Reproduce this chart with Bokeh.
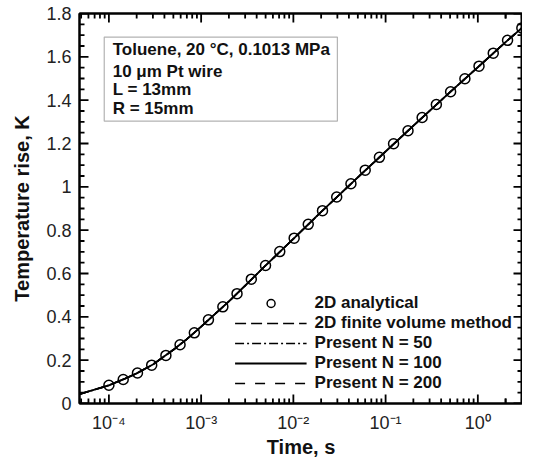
import math
from bokeh.plotting import figure
from bokeh.models import (FixedTicker, LogAxis, LinearAxis, CustomJSTickFormatter,
                          Legend, LegendItem, BoxAnnotation, Label)
from bokeh.embed import file_html
from bokeh.resources import INLINE

# ---------------- data ----------------
t_analytic = [1.00e-4, 1.43e-4, 2.04e-4, 2.91e-4, 4.15e-4, 5.91e-4, 8.44e-4, 1.20e-3,
              1.72e-3, 2.45e-3, 3.50e-3, 4.99e-3, 7.12e-3, 1.02e-2, 1.45e-2, 2.07e-2,
              2.95e-2, 4.21e-2, 6.01e-2, 8.57e-2, 0.122, 0.175, 0.249, 0.355, 0.507,
              0.724, 1.03, 1.47, 2.10, 3.00]
T_analytic = [0.084, 0.111, 0.141, 0.177, 0.222, 0.271, 0.326, 0.386, 0.446, 0.507,
              0.574, 0.637, 0.701, 0.763, 0.827, 0.890, 0.953, 1.014, 1.077, 1.136,
              1.199, 1.259, 1.320, 1.380, 1.439, 1.499, 1.557, 1.617, 1.676, 1.733]

t_model = [4.8e-5, 7e-5, 1e-4, 1.5e-4, 2e-4, 3e-4, 5e-4, 7e-4, 1e-3, 1.5e-3, 2e-3, 3e-3,
           5e-3, 1e-2, 2e-2, 5e-2, 0.1, 0.2, 0.5, 1.0, 2.0, 3.05]
T_fvm = [0.043, 0.064, 0.084, 0.115, 0.139, 0.180, 0.248, 0.297, 0.355, 0.423, 0.471,
         0.544, 0.637, 0.760, 0.884, 1.044, 1.163, 1.282, 1.437, 1.552, 1.668, 1.736]
T_n50 = list(T_fvm)
T_n100 = list(T_fvm)
T_n200 = list(T_fvm)

x_major = [1e-4, 1e-3, 1e-2, 1e-1, 1e0]
x_labels = ["10\u207b\u2074", "10\u207b\u00b3", "10\u207b\u00b2", "10\u207b\u00b9", "10\u2070"]
y_major = [0, 0.2, 0.4, 0.6, 0.8, 1.0, 1.2, 1.4, 1.6, 1.8]

series_names = ["2D analytical", "2D finite volume method", "Present N = 50",
                "Present N = 100", "Present N = 200"]
note_lines = ["Toluene, 20 \u00b0C, 0.1013 MPa", "10 \u03bcm Pt wire", "L = 13mm", "R = 15mm"]

X_LO, X_HI = 4.8e-5, 3.05
Y_LO, Y_HI = 0.0, 1.8

# --------------- figure ---------------
FONT = "Liberation Sans"
p = figure(width=522, height=460, x_axis_type="log",
           x_range=(X_LO, X_HI), y_range=(Y_LO, Y_HI),
           output_backend="svg", toolbar_location=None,
           min_border_left=79, min_border_right=0, min_border_top=13, min_border_bottom=0)
p.xgrid.visible = False
p.ygrid.visible = False
p.outline_line_color = "black"
p.outline_line_width = 2
p.background_fill_color = "white"
p.border_fill_color = "white"

x_minor = [m * 10.0 ** e for e in range(-5, 1) for m in range(2, 10)] + [2.0, 3.0]
x_minor = [v for v in x_minor if X_LO <= v <= X_HI]
y_minor = [round(0.05 * i, 2) for i in range(37)]
y_minor_only = [v for v in y_minor if abs(v * 5 - round(v * 5)) > 1e-6]
xt = FixedTicker(ticks=x_major, minor_ticks=x_minor)
yt = FixedTicker(ticks=y_major, minor_ticks=y_minor)
blank = CustomJSTickFormatter(code="return ''")

def style_axis(ax):
    ax.axis_line_color = "black"
    ax.axis_line_width = 2
    ax.major_tick_in = 0
    ax.major_tick_out = 0
    ax.minor_tick_in = 0
    ax.minor_tick_out = 0
    ax.major_label_text_font = FONT
    ax.major_label_text_font_size = "18px"
    ax.major_label_text_color = "#222222"
    ax.axis_label_text_font = FONT
    ax.axis_label_text_font_size = "20px"
    ax.axis_label_text_font_style = "bold"
    ax.axis_label_text_color = "#111111"

xa = p.xaxis[0]
xa.ticker = xt
xa.major_label_overrides = dict(zip(x_major, x_labels))
xa.axis_label = "Time, s"
style_axis(xa)
xa.major_label_standoff = 9
xa.axis_label_standoff = 0

ya = p.yaxis[0]
ya.ticker = yt
ya.formatter = CustomJSTickFormatter(code="return String(Number(tick.toFixed(1)))")
ya.axis_label = "Temperature rise, K"
style_axis(ya)
ya.major_label_standoff = 8
ya.axis_label_standoff = 10

top = LogAxis(ticker=xt, formatter=blank, major_label_standoff=0)
style_axis(top)
p.add_layout(top, "above")
right = LinearAxis(ticker=yt, formatter=blank, major_label_standoff=0)
style_axis(right)
p.add_layout(right, "right")

# --------------- glyphs ---------------
r_fvm = p.line(t_model, T_fvm, line_color="black", line_width=1.6, line_dash="11 5")
r_n50 = p.line(t_model, T_n50, line_color="black", line_width=1.6, line_dash="9 3 2 3")
r_n200 = p.line(t_model, T_n200, line_color="black", line_width=1.6, line_dash="10 10")
r_n100 = p.line(t_model, T_n100, line_color="black", line_width=1.8)
r_an = p.scatter(t_analytic, T_analytic, marker="circle", size=10, fill_color=None,
                 line_color="black", line_width=1.5)

# --------------- inward tick marks, drawn as short segments from the frame edges ---
FRAME_W = 443.0
FRAME_H = 390.0
dec_per_px = (math.log10(X_HI) - math.log10(X_LO)) / FRAME_W
y_per_px = (Y_HI - Y_LO) / FRAME_H
MAJ, MIN = 9, 5
fx_maj, fx_min = 10 ** (MAJ * dec_per_px), 10 ** (MIN * dec_per_px)
dy_maj, dy_min = MAJ * y_per_px, MIN * y_per_px
SEG = dict(line_color="black", line_width=1.8)
p.segment(x0=x_major, y0=[Y_LO] * len(x_major), x1=x_major, y1=[Y_LO + dy_maj] * len(x_major), **SEG)
p.segment(x0=x_minor, y0=[Y_LO] * len(x_minor), x1=x_minor, y1=[Y_LO + dy_min] * len(x_minor), **SEG)
p.segment(x0=x_major, y0=[Y_HI] * len(x_major), x1=x_major, y1=[Y_HI - dy_maj] * len(x_major), **SEG)
p.segment(x0=x_minor, y0=[Y_HI] * len(x_minor), x1=x_minor, y1=[Y_HI - dy_min] * len(x_minor), **SEG)
p.segment(x0=[X_LO] * len(y_major), y0=y_major, x1=[X_LO * fx_maj] * len(y_major), y1=y_major, **SEG)
p.segment(x0=[X_LO] * len(y_minor_only), y0=y_minor_only,
          x1=[X_LO * fx_min] * len(y_minor_only), y1=y_minor_only, **SEG)
p.segment(x0=[X_HI] * len(y_major), y0=y_major, x1=[X_HI / fx_maj] * len(y_major), y1=y_major, **SEG)
p.segment(x0=[X_HI] * len(y_minor_only), y0=y_minor_only,
          x1=[X_HI / fx_min] * len(y_minor_only), y1=y_minor_only, **SEG)

legend = Legend(items=[LegendItem(label=series_names[0], renderers=[r_an]),
                       LegendItem(label=series_names[1], renderers=[r_fvm]),
                       LegendItem(label=series_names[2], renderers=[r_n50]),
                       LegendItem(label=series_names[3], renderers=[r_n100]),
                       LegendItem(label=series_names[4], renderers=[r_n200])],
                location="bottom_right")
legend.background_fill_alpha = 0
legend.border_line_color = None
legend.label_text_font = FONT
legend.label_text_font_size = "17px"
legend.label_text_font_style = "bold"
legend.label_text_color = "#111111"
legend.glyph_width = 72
legend.glyph_height = 20
legend.label_height = 20
legend.label_standoff = 8
legend.spacing = 0
legend.padding = 4
legend.margin = 10
p.add_layout(legend, "center")

# --------------- annotation box ---------------
box = BoxAnnotation(left=8.9e-5, right=0.030, bottom=1.303, top=1.691,
                    fill_color="white", fill_alpha=1, line_color="black", line_width=1.2)
p.add_layout(box)
note_y = [1.633, 1.534, 1.449, 1.363]
for txt, yy in zip(note_lines, note_y):
    p.add_layout(Label(x=1.1e-4, y=yy, text=txt, text_font=FONT, text_font_size="17px",
                       text_font_style="bold", text_baseline="middle", text_color="#111111"))

open("out.html", "w").write(file_html(p, INLINE))
